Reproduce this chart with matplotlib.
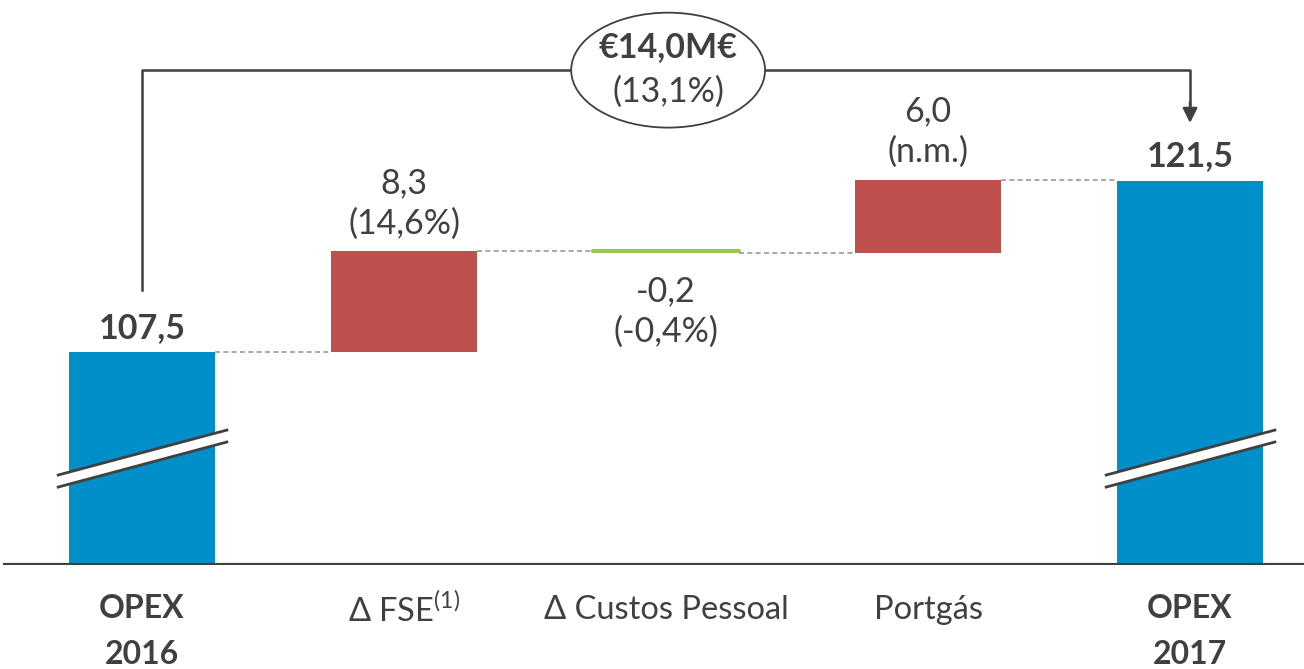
import matplotlib.pyplot as plt
from matplotlib.patches import Ellipse, Polygon

# data
categories = ['OPEX\n2016', 'Δ FSE', 'Δ Custos Pessoal', 'Portgás', 'OPEX\n2017']
start_value = 107.5
deltas = [8.3, -0.2, 6.0]
end_value = 121.5
value_labels = ['107,5', '8,3\n(14,6%)', '-0,2\n(-0,4%)', '6,0\n(n.m.)', '121,5']
total_label = '€14,0M€'
total_pct = '(13,1%)'

BLUE = '#008FC9'
RED = '#C0504D'
GREEN = '#9BC94B'
DARK = '#404040'

plt.rcParams['font.family'] = ['Lato', 'DejaVu Sans']
plt.rcParams['mathtext.fontset'] = 'custom'
plt.rcParams['mathtext.rm'] = 'Lato'

fig = plt.figure(figsize=(13.04, 6.69), dpi=100)
ax = fig.add_axes([0, 104 / 669, 1, 565 / 669])
ymin = 90
ax.set_ylim(ymin, 136.4)
ax.set_xlim(-0.542, 4.435)
w = 0.557
VFS = 24.5

# totals
ax.bar(0, start_value - ymin, bottom=ymin, width=w, color=BLUE, zorder=2)
ax.bar(4, end_value - ymin, bottom=ymin, width=w, color=BLUE, zorder=2)

# deltas
level = start_value
for i, d in enumerate(deltas):
    x = i + 1
    if d >= 0:
        ax.bar(x, d, bottom=level, width=w, color=RED, zorder=2)
    else:
        ax.bar(x, -d, bottom=level + d, width=w, color=GREEN, zorder=2)
        ax.plot([x - w / 2, x + w / 2], [level, level], color=GREEN, lw=3,
                solid_capstyle='round', zorder=3)
    level += d

# dashed connectors
conn = [start_value, start_value + deltas[0], start_value + deltas[0] + deltas[1],
        start_value + sum(deltas)]
for i, y in enumerate(conn):
    ax.plot([i + w / 2, i + 1 - w / 2], [y, y], ls=(0, (3, 2)), color='#9A9A9A',
            lw=1.2, zorder=1)

# value labels
ax.text(0, start_value + 2, value_labels[0], ha='center', va='center',
        fontsize=VFS, fontweight='bold', color=DARK)
ax.text(4, end_value + 2.1, value_labels[4], ha='center', va='center',
        fontsize=VFS, fontweight='bold', color=DARK)
ax.text(1, start_value + deltas[0] + 3.9, value_labels[1], ha='center', va='center',
        fontsize=VFS, color=DARK, linespacing=1.3)
ax.text(2, start_value + deltas[0] + deltas[1] - 4.8, value_labels[2], ha='center',
        va='center', fontsize=VFS, color=DARK, linespacing=1.3)
ax.text(3, start_value + sum(deltas) + 4.0, value_labels[3], ha='center', va='center',
        fontsize=VFS, color=DARK, linespacing=1.3)

# axis break marks
for x in (0, 4):
    x0, x1 = x - 0.32, x + 0.324
    ya0, ya1 = 97.39, 101.08
    yb0, yb1 = 96.4, 100.1
    ax.add_patch(Polygon([(x0, ya0), (x1, ya1), (x1, yb1), (x0, yb0)],
                         closed=True, color='white', zorder=4))
    ax.plot([x0, x1], [ya0, ya1], color=DARK, lw=2, zorder=5)
    ax.plot([x0, x1], [yb0, yb1], color=DARK, lw=2, zorder=5)

# top bracket
yb = 130.64
ax.plot([0, 0, 4, 4], [112.6, yb, yb, 127.6], color=DARK, lw=1.8, zorder=3)
ax.annotate('', xy=(4, 126.3), xytext=(4, 128.0),
            arrowprops=dict(arrowstyle='-|>', color=DARK, lw=1.8,
                            mutation_scale=22, shrinkA=0, shrinkB=0))
ax.add_patch(Ellipse((2.008, yb), 0.74, 9.44, facecolor='white', edgecolor=DARK,
                     lw=1.3, zorder=4))
ax.text(2.008, yb + 1.9, total_label, ha='center', va='center', fontsize=VFS,
        fontweight='bold', color=DARK, zorder=5)
ax.text(2.008, yb - 1.8, total_pct, ha='center', va='center', fontsize=VFS,
        color=DARK, zorder=5)

# baseline and category labels
ax.axhline(ymin, xmin=0.004, color=DARK, lw=3, zorder=3)
for s in ax.spines.values():
    s.set_visible(False)
ax.set_xticks([])
ax.set_yticks([])

xtr = ax.get_xaxis_transform()
for i, c in enumerate(categories):
    if i == 1:
        ax.text(i, -45 / 565, 'Δ FSE$^{\\mathrm{(1)}}$', transform=xtr,
                ha='center', va='center', fontsize=23.5, color=DARK)
    elif i in (0, 4):
        ax.text(i, -29 / 565, c, transform=xtr, ha='center', va='top',
                fontsize=23, fontweight='bold', color=DARK, linespacing=1.72)
    else:
        ax.text(i, -45 / 565, c, transform=xtr, ha='center',
                va='center', fontsize=23.5, color=DARK)

fig.savefig('out.png', dpi=100, facecolor='white')
